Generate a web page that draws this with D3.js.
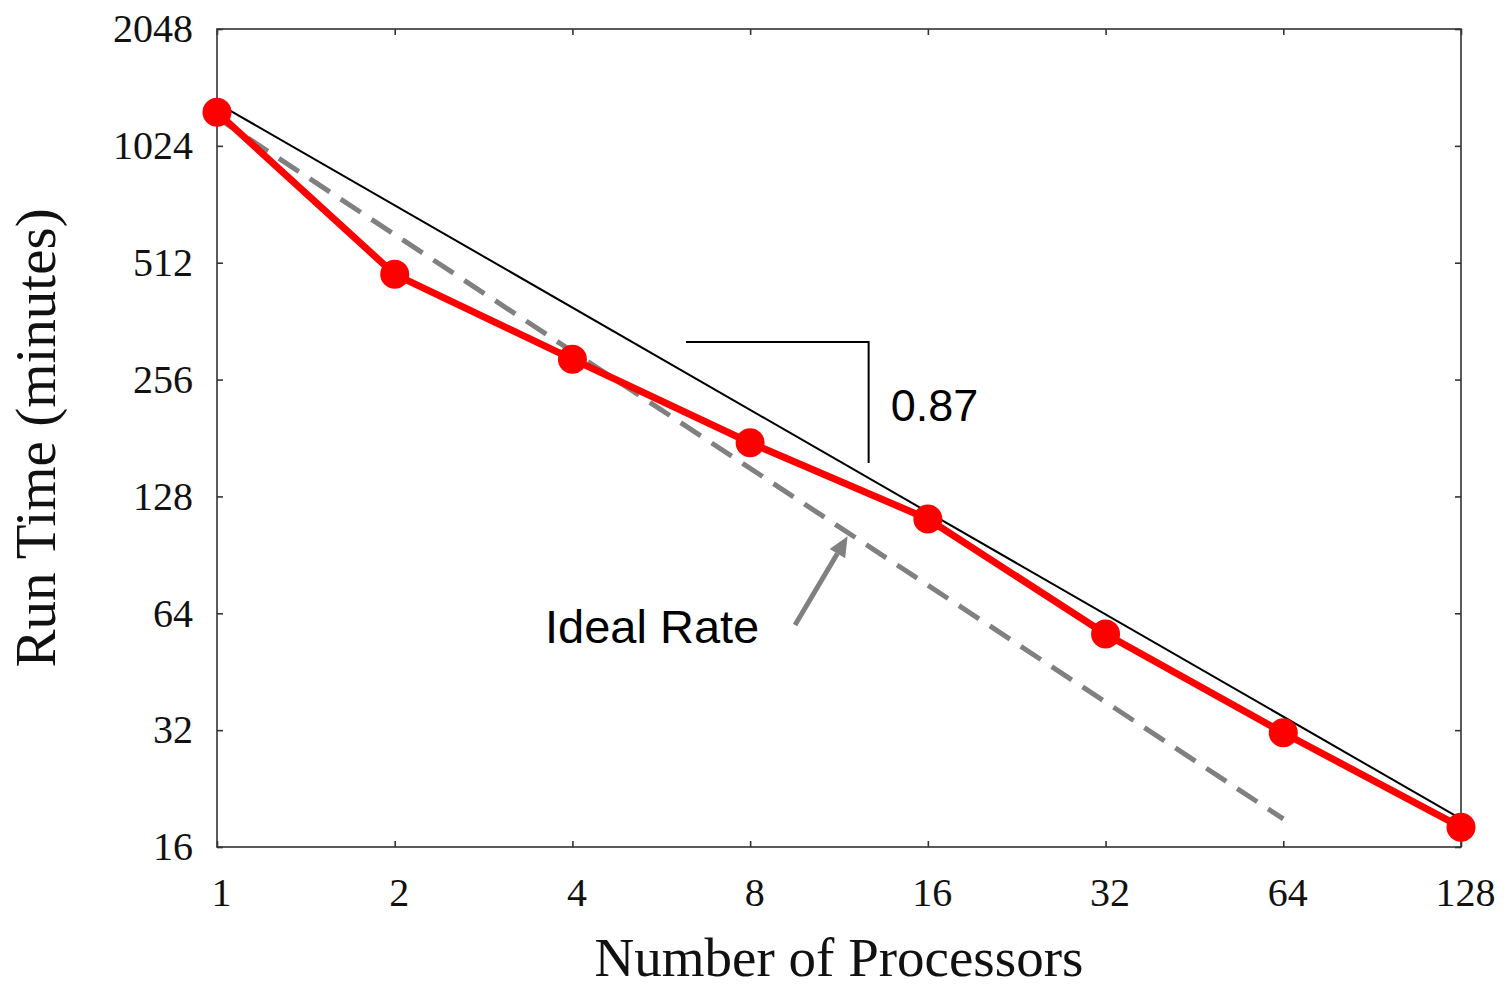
<!DOCTYPE html>
<html>
<head>
<meta charset="utf-8">
<script src="https://cdn.jsdelivr.net/npm/d3@7"></script>
<style>
  html, body { margin: 0; padding: 0; background: #fff; }
  svg { display: block; }
</style>
</head>
<body>
<svg id="chart" width="1507" height="988"></svg>
<script>
// ---- data ----
const processors = [1, 2, 4, 8, 16, 32, 64, 128];
const runTime = [1250, 478, 289, 176, 112, 56.6, 31.5, 18.0];
const fitX = [1, 128];
const fitY = [1320, 18.9];
const idealX = [1, 64];
const idealY = [1210, 18.9];
const yTicks = [16, 32, 64, 128, 256, 512, 1024, 2048];
const xTicks = [1, 2, 4, 8, 16, 32, 64, 128];
const slopeLabel = "0.87";
const idealLabel = "Ideal Rate";
const xTitle = "Number of Processors";
const yTitle = "Run Time (minutes)";
// slope triangle (data coords): horizontal run from x0 to x1 at yTop, vertical drop to yBottom
const triX = [6.23, 12.7];
const triY = [320, 156];
// arrow (data coords): tail -> head
const arrowX = [9.53, 11.7];
const arrowY = [59.7, 101];

// ---- layout ----
const W = 1507, H = 988;
const margin = { left: 217, top: 29, right: 46, bottom: 141 };
const iw = W - margin.left - margin.right;
const ih = H - margin.top - margin.bottom;

const svg = d3.select("#chart");
const g = svg.append("g").attr("transform", `translate(${margin.left},${margin.top})`);

const x = d3.scaleLog().base(2).domain([1, 128]).range([0, iw]);
const y = d3.scaleLog().base(2).domain([16, 2048]).range([ih, 0]);

const serif = "'Liberation Serif', 'Times New Roman', serif";
const sans = "'Liberation Sans', Arial, sans-serif";

// frame
g.append("rect").attr("x", 0).attr("y", 0).attr("width", iw).attr("height", ih)
  .attr("fill", "none").attr("stroke", "#333").attr("stroke-width", 1.6);

const fmt = d => String(d);
const axB = g.append("g").attr("transform", `translate(0,${ih})`)
  .call(d3.axisBottom(x).tickValues(xTicks).tickFormat(fmt).tickSizeInner(-6).tickSizeOuter(0).tickPadding(31));
const axL = g.append("g")
  .call(d3.axisLeft(y).tickValues(yTicks).tickFormat(fmt).tickSizeInner(-6).tickSizeOuter(0).tickPadding(24));
const axT = g.append("g")
  .call(d3.axisTop(x).tickValues(xTicks).tickFormat("").tickSizeInner(-6).tickSizeOuter(0));
const axR = g.append("g").attr("transform", `translate(${iw},0)`)
  .call(d3.axisRight(y).tickValues(yTicks).tickFormat("").tickSizeInner(-6).tickSizeOuter(0));

[axB, axL, axT, axR].forEach(a => {
  a.select(".domain").remove();
  a.selectAll(".tick line").attr("stroke", "#333").attr("stroke-width", 1.6);
  a.selectAll(".tick text").attr("fill", "#111").attr("font-family", serif).attr("font-size", 40);
});
axB.selectAll(".tick text").attr("dx", 4);

// ideal dashed line
g.append("path")
  .datum(idealX.map((d, i) => [d, idealY[i]]))
  .attr("d", d3.line().x(d => x(d[0])).y(d => y(d[1])))
  .attr("fill", "none").attr("stroke", "#808080").attr("stroke-width", 5)
  .attr("stroke-dasharray", "24,13");

// fit line
g.append("path")
  .datum(fitX.map((d, i) => [d, fitY[i]]))
  .attr("d", d3.line().x(d => x(d[0])).y(d => y(d[1])))
  .attr("fill", "none").attr("stroke", "#000").attr("stroke-width", 2);

// data line
const pts = processors.map((d, i) => [d, runTime[i]]);
g.append("path").datum(pts)
  .attr("d", d3.line().x(d => x(d[0])).y(d => y(d[1])))
  .attr("fill", "none").attr("stroke", "#ff0000").attr("stroke-width", 7)
  .attr("stroke-linejoin", "round");

g.selectAll("circle.pt").data(pts).enter().append("circle")
  .attr("class", "pt")
  .attr("cx", d => x(d[0])).attr("cy", d => y(d[1])).attr("r", 14.5)
  .attr("fill", "#ff0000");

// slope triangle
g.append("path")
  .attr("d", `M${x(triX[0])},${y(triY[0])}H${x(triX[1])}V${y(triY[1])}`)
  .attr("fill", "none").attr("stroke", "#000").attr("stroke-width", 2);

g.append("text")
  .attr("x", x(triX[1]) + 22).attr("y", (y(triY[0]) + y(triY[1])) / 2 + 18)
  .attr("font-family", sans).attr("font-size", 45).attr("fill", "#000")
  .text(slopeLabel);

// arrow
const ax0 = x(arrowX[0]), ay0 = y(arrowY[0]), ax1 = x(arrowX[1]), ay1 = y(arrowY[1]);
const ang = Math.atan2(ay1 - ay0, ax1 - ax0);
const headLen = 20, headW = 9;
const bx = ax1 - headLen * Math.cos(ang), by = ay1 - headLen * Math.sin(ang);
g.append("line")
  .attr("x1", ax0).attr("y1", ay0).attr("x2", bx).attr("y2", by)
  .attr("stroke", "#808080").attr("stroke-width", 5);
g.append("path")
  .attr("d", `M${ax1},${ay1}L${bx + headW * Math.sin(ang)},${by - headW * Math.cos(ang)}L${bx - headW * Math.sin(ang)},${by + headW * Math.cos(ang)}Z`)
  .attr("fill", "#808080");

g.append("text")
  .attr("x", ax0 - 250).attr("y", ay0 + 18)
  .attr("font-family", sans).attr("font-size", 47).attr("fill", "#000")
  .text(idealLabel);

// axis titles
svg.append("text")
  .attr("x", margin.left + iw / 2).attr("y", 976)
  .attr("text-anchor", "middle")
  .attr("font-family", serif).attr("font-size", 55).attr("fill", "#111")
  .text(xTitle);

svg.append("text")
  .attr("transform", `translate(55,${margin.top + ih / 2}) rotate(-90)`)
  .attr("text-anchor", "middle")
  .attr("font-family", serif).attr("font-size", 57).attr("fill", "#111")
  .text(yTitle);
</script>
</body>
</html>
